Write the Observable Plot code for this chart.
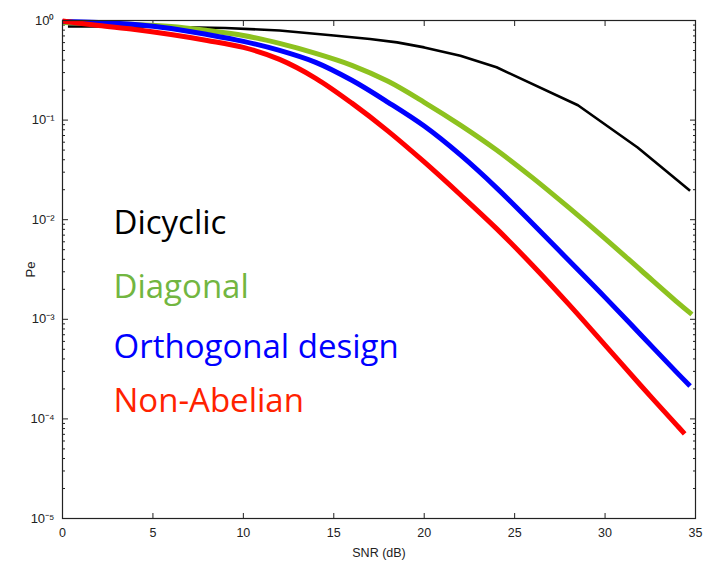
<!DOCTYPE html>
<html>
<head>
<meta charset="utf-8">
<script src="https://cdn.jsdelivr.net/npm/d3@7"></script>
<script src="https://cdn.jsdelivr.net/npm/@observablehq/plot@0.6"></script>
<style>
  html, body { margin: 0; padding: 0; background: #fff; }
  #chart { width: 704px; height: 566px; }
</style>
</head>
<body>
<div id="chart"></div>
<script>
// --- data (SNR in dB, Pe) ---
const dicyclicSnr = [0.3, 3, 6, 9, 12, 15, 17, 18.5, 20, 22, 24, 28.5, 31.8, 34.7];
const dicyclicPe  = [0.871, 0.871, 0.861, 0.841, 0.794, 0.708, 0.653, 0.603, 0.537, 0.442, 0.339, 0.141, 0.0531, 0.0195];

const diagonalSnr = [0, 2, 4, 6, 8, 10, 12, 14, 16, 18, 20, 22, 24, 26, 28, 30, 32, 34, 34.8];
const diagonalPe  = [0.955, 0.933, 0.912, 0.871, 0.794, 0.708, 0.589, 0.468, 0.355, 0.245, 0.151, 0.0891, 0.0501, 0.0263, 0.0132, 0.00646, 0.00309, 0.00148, 0.00112];

const orthoSnr = [0, 2, 4, 6, 8, 10, 12, 14, 16, 18, 20, 22, 24, 26, 28, 30, 32, 34, 34.7];
const orthoPe  = [0.977, 0.955, 0.912, 0.832, 0.724, 0.617, 0.501, 0.380, 0.251, 0.151, 0.0871, 0.0447, 0.0209, 0.00912, 0.00389, 0.00166, 0.000692, 0.000288, 0.000214];

const nonAbelianSnr = [0, 2, 4, 6, 8, 10, 12, 14, 16, 18, 20, 22, 24, 26, 28, 30, 32, 34, 34.4];
const nonAbelianPe  = [0.989, 0.891, 0.813, 0.724, 0.631, 0.537, 0.407, 0.263, 0.148, 0.0776, 0.0380, 0.0178, 0.00813, 0.00347, 0.00141, 0.000550, 0.000214, 0.0000851, 0.0000708];

const seriesNames  = ["Dicyclic", "Diagonal", "Orthogonal design", "Non-Abelian"];
const lineColors   = ["#000000", "#8dc21f", "#0000ff", "#ff0000"];
const textColors   = ["#000000", "#72b641", "#0000ff", "#ff2200"];
const lineWidths   = [2.6, 5, 5, 5];
const lineCurves   = ["linear", "catmull-rom", "catmull-rom", "catmull-rom"];

// legend text anchor points in data units (SNR, Pe)
const legendSnr = [2.82, 2.82, 2.82, 2.82];
const legendPe  = [0.00726, 0.00162, 0.000413, 0.000116];

const xTicks = [0, 5, 10, 15, 20, 25, 30, 35];
const yMajor = [1, 0.1, 0.01, 0.001, 0.0001, 0.00001];
const yMajorLabels = ["10⁰", "10⁻¹", "10⁻²", "10⁻³", "10⁻⁴", "10⁻⁵"];
const yMinorMantissa = [2, 3, 4, 5, 6, 7, 8, 9];

// --- build tables ---
const allSnr = [dicyclicSnr, diagonalSnr, orthoSnr, nonAbelianSnr];
const allPe = [dicyclicPe, diagonalPe, orthoPe, nonAbelianPe];
const rows = [];
allSnr.forEach((xs, i) => xs.forEach((x, j) => rows.push({series: seriesNames[i], snr: x, pe: allPe[i][j]})));

const yMinor = [];
yMajor.slice(1).forEach(d => yMinorMantissa.forEach(m => yMinor.push(d * m)));

const legendRows = seriesNames.map((n, i) => ({name: n, color: textColors[i], snr: legendSnr[i], pe: legendPe[i]}));

const yLabelOf = d => {
  let best = 0;
  yMajor.forEach((v, i) => { if (Math.abs(Math.log10(v) - Math.log10(d)) < Math.abs(Math.log10(yMajor[best]) - Math.log10(d))) best = i; });
  return yMajorLabels[best];
};

const axisColor = "#222";
const tickFont = "Liberation Sans, Arial, sans-serif";

const lineMarks = seriesNames.map((n, i) =>
  Plot.line(rows.filter(r => r.series === n), {
    x: "snr", y: "pe", stroke: lineColors[i], strokeWidth: lineWidths[i],
    curve: lineCurves[i], strokeLinejoin: "round", strokeLinecap: "butt"
  })
);

const chart = Plot.plot({
  width: 704,
  height: 566,
  marginLeft: 62,
  marginRight: 9,
  marginTop: 20,
  marginBottom: 48,
  style: {fontFamily: tickFont, fontSize: "12.5px", color: axisColor, background: "#fff"},
  x: {domain: [0, 35]},
  y: {type: "log", domain: [0.00001, 1]},
  marks: [
    // bottom axis: labels
    Plot.axisX({anchor: "bottom", ticks: xTicks, tickSize: 0, tickPadding: 10, tickFormat: d => String(d),
      label: "SNR (dB)", labelAnchor: "center", labelOffset: 38, labelArrow: "none", fontSize: 12.5}),
    // bottom & top inward ticks
    Plot.axisX({anchor: "bottom", ticks: xTicks, tickSize: -5, tickFormat: () => "", label: null}),
    Plot.axisX({anchor: "top", ticks: xTicks, tickSize: -5, tickFormat: () => "", label: null}),
    // left axis labels and ticks
    Plot.axisY({anchor: "left", ticks: yMajor, tickSize: 0, tickPadding: 8, tickFormat: yLabelOf,
      label: "Pe", labelAnchor: "center", labelOffset: 37, labelArrow: "none", fontSize: 13}),
    Plot.axisY({anchor: "left", ticks: yMajor, tickSize: -6, tickFormat: () => "", label: null}),
    Plot.axisY({anchor: "left", ticks: yMinor, tickSize: -3, tickFormat: () => "", label: null}),
    Plot.axisY({anchor: "right", ticks: yMajor, tickSize: -6, tickFormat: () => "", label: null}),
    Plot.axisY({anchor: "right", ticks: yMinor, tickSize: -3, tickFormat: () => "", label: null}),
    ...lineMarks,
    Plot.frame({stroke: axisColor, strokeWidth: 1.2}),
    Plot.text(legendRows, {
      x: "snr", y: "pe", text: "name", fill: "color",
      textAnchor: "start", lineAnchor: "bottom",
      fontSize: 33, fontFamily: "Open Sans, sans-serif", letterSpacing: 1.1
    })
  ]
});

document.getElementById("chart").appendChild(chart);
</script>
</body>
</html>
